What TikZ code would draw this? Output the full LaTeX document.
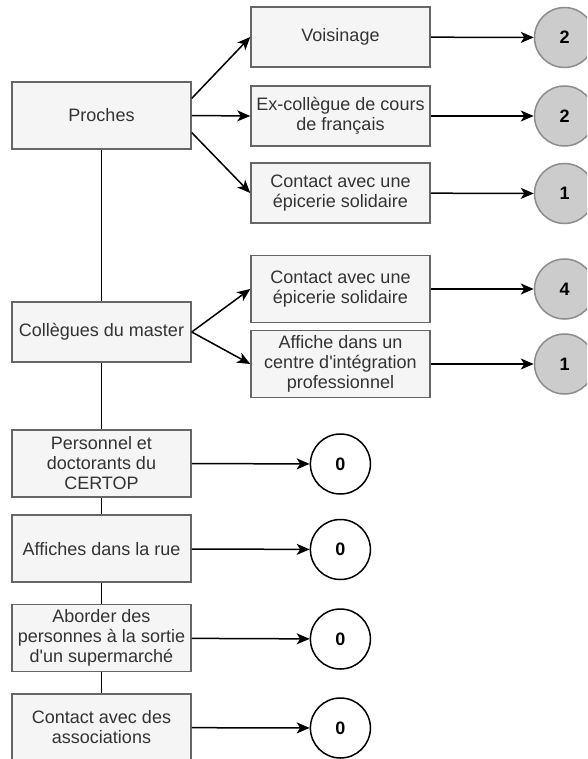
\documentclass[tikz,border=0pt]{standalone}
\usepackage{fontspec}
\setmainfont{Liberation Sans}[Ligatures=TeXOff]
\usetikzlibrary{arrows.meta,calc}
\definecolor{boxfill}{HTML}{F5F5F5}
\definecolor{boxline}{HTML}{666666}
\definecolor{cntfill}{HTML}{CCCCCC}
\definecolor{cntline}{HTML}{8C8C8C}
\definecolor{boxtext}{HTML}{333333}
\begin{document}
\begin{tikzpicture}[x=1pt,y=-1pt,
  src/.style={rectangle, draw=boxline, fill=boxfill, line width=1.5pt, minimum width=179pt, minimum height=67pt, inner sep=2pt, align=center, text=boxtext, font=\fontsize{18}{20}\selectfont},
  cnt/.style={circle, draw=cntline, fill=cntfill, line width=1.5pt, minimum size=60pt, inner sep=0pt, font=\fontsize{18}{20}\selectfont\bfseries},
  zero/.style={cnt, draw=black, fill=white},
  arr/.style={-{Stealth[length=13pt,width=11pt,inset=3.5pt]}, line width=1.5pt}]
\useasboundingbox (0,0) rectangle (587,759);
\clip (0,0) rectangle (587,759);
\node[src] (proches) at (101.5,115.5){Proches};
\node[src, minimum height=60pt] (voisin) at (340.5,37){Voisinage};
\node[src, minimum height=60pt] (excoll) at (340.5,116){Ex-collègue de cours\\de français};
\node[src, minimum height=60pt] (epic1) at (340.5,193){Contact avec une\\épicerie solidaire};
\node[cnt] (cnt1) at (564.5,37.5){2};
\node[cnt] (cnt2) at (564.5,116){2};
\node[cnt] (cnt3) at (564.5,193.5){1};
\draw[arr]($(proches.north east)!.25!(proches.south east)$) -- (voisin.west);
\draw[arr](proches.east) -- (excoll.west);
\draw[arr]($(proches.north east)!.75!(proches.south east)$) -- (epic1.west);
\draw[arr](voisin) -- (cnt1);
\draw[arr](excoll) -- (cnt2);
\draw[arr](epic1) -- (cnt3);
\node[src, minimum height=60pt] (coll) at (101.5,332){Collègues du master};
\node[src] (epic2) at (340.5,289){Contact avec une\\épicerie solidaire};
\node[src] (affiche) at (340.5,364){Affiche dans un\\centre d'intégration\\professionnel};
\node[cnt] (cnt4) at (564.5,289){4};
\node[cnt] (cnt5) at (564.5,364){1};
\draw[line width=1.5pt](proches) -- (coll);
\draw[arr](coll.east) -- (epic2.west);
\draw[arr](coll.east) -- (affiche.west);
\draw[arr](epic2) -- (cnt4);
\draw[arr](affiche) -- (cnt5);
\node[src] (certop) at (101.5,463.3){Personnel et\\doctorants du\\CERTOP};
\node[src] (rue) at (101.5,548.7){Affiches dans la rue};
\node[src] (superm) at (101.5,638){Aborder des\\personnes à la sortie\\d'un supermarché};
\node[src] (assoc) at (101.5,727.5){Contact avec des\\associations};
\node[zero] (cnt6) at (340.4,464){0};
\node[zero] (cnt7) at (340.4,549.5){0};
\node[zero] (cnt8) at (340.4,639){0};
\node[zero] (cnt9) at (340.4,728){0};
\draw[line width=1.5pt](coll) -- (certop);
\draw[line width=1.5pt](certop) -- (rue);
\draw[line width=1.5pt](rue) -- (superm);
\draw[line width=1.5pt](superm) -- (assoc);
\draw[arr](certop) -- (cnt6);
\draw[arr](rue) -- (cnt7);
\draw[arr](superm) -- (cnt8);
\draw[arr](assoc) -- (cnt9);
\end{tikzpicture}
\end{document}
